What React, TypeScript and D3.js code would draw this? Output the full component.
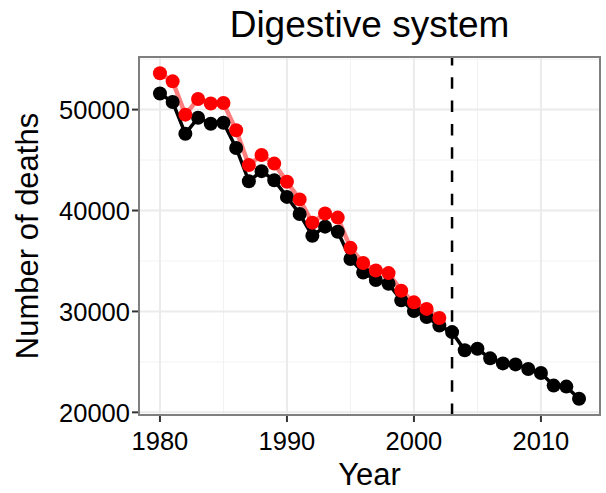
import React from "react";
import * as d3 from "d3";

// Annual deaths from diseases of the digestive system
const years = [
  1980, 1981, 1982, 1983, 1984, 1985, 1986, 1987, 1988, 1989, 1990, 1991,
  1992, 1993, 1994, 1995, 1996, 1997, 1998, 1999, 2000, 2001, 2002, 2003,
  2004, 2005, 2006, 2007, 2008, 2009, 2010, 2011, 2012, 2013,
];
const deathsBlack = [
  51600, 50750, 47600, 49200, 48600, 48700, 46200, 42900, 43900, 43000, 41350,
  39650, 37500, 38400, 37900, 35200, 33850, 33120, 32750, 31100, 30050, 29450,
  28600, 27950, 26150, 26300, 25350, 24850, 24750, 24300, 23900, 22650, 22550,
  21350,
];
const yearsRed = years.slice(0, 23);
const deathsRed = [
  53600, 52800, 49500, 51050, 50600, 50650, 47950, 44500, 45500, 44650, 42850,
  41100, 38800, 39700, 39300, 36300, 34800, 34050, 33800, 32050, 30900, 30250,
  29350,
];
const xTicks = [1980, 1990, 2000, 2010];
const xMinor = [1985, 1995, 2005];
const yTicks = [20000, 30000, 40000, 50000];
const yMinor = [25000, 35000, 45000, 55000];
const markerYear = 2003;
const titleText = "Digestive system";
const xTitle = "Year";
const yTitle = "Number of deaths";

const W = 606;
const H = 493;
const panel = { left: 139, right: 600, top: 57, bottom: 415 };
const FONT = "'Liberation Sans', Arial, Helvetica, sans-serif";

function expand([lo, hi]: [number, number], f = 0.05): [number, number] {
  const d = (hi - lo) * f;
  return [lo - d, hi + d];
}

export default function App() {
  const xExt = d3.extent(years) as [number, number];
  const yExt = d3.extent([...deathsBlack, ...deathsRed]) as [number, number];
  const x = d3.scaleLinear().domain(expand(xExt)).range([panel.left, panel.right]);
  const y = d3.scaleLinear().domain(expand(yExt)).range([panel.bottom, panel.top]);

  const black = years.map((yr, i) => [yr, deathsBlack[i]] as [number, number]);
  const red = yearsRed.map((yr, i) => [yr, deathsRed[i]] as [number, number]);
  const line = d3
    .line<[number, number]>()
    .x((d) => x(d[0]))
    .y((d) => y(d[1]));

  const yMinorIn = yMinor.filter((v) => y(v) >= panel.top && y(v) <= panel.bottom);

  return (
    <svg
      width={W}
      height={H}
      style={{ position: "absolute", left: 0, top: 0, background: "#fff" }}
      fontFamily={FONT}
    >
      <rect x={0} y={0} width={W} height={H} fill="#fff" />
      {/* grid */}
      <g>
        {xMinor.map((v) => (
          <line key={"xm" + v} x1={x(v)} x2={x(v)} y1={panel.top} y2={panel.bottom} stroke="#f2f2f2" strokeWidth={1} />
        ))}
        {yMinorIn.map((v) => (
          <line key={"ym" + v} x1={panel.left} x2={panel.right} y1={y(v)} y2={y(v)} stroke="#f2f2f2" strokeWidth={1} />
        ))}
        {xTicks.map((v) => (
          <line key={"xg" + v} x1={x(v)} x2={x(v)} y1={panel.top} y2={panel.bottom} stroke="#ebebeb" strokeWidth={2} />
        ))}
        {yTicks.map((v) => (
          <line key={"yg" + v} x1={panel.left} x2={panel.right} y1={y(v)} y2={y(v)} stroke="#ebebeb" strokeWidth={2} />
        ))}
      </g>
      {/* series */}
      <path d={line(black) ?? ""} fill="none" stroke="#000" strokeWidth={3.5} />
      <path d={line(red) ?? ""} fill="none" stroke="#ff0000" strokeOpacity={0.5} strokeWidth={4.5} />
      {black.map((d) => (
        <circle key={"b" + d[0]} cx={x(d[0])} cy={y(d[1])} r={7} fill="#000" />
      ))}
      {red.map((d) => (
        <circle key={"r" + d[0]} cx={x(d[0])} cy={y(d[1])} r={7} fill="#ff0000" />
      ))}
      {/* reference year */}
      <line
        x1={x(markerYear)}
        x2={x(markerYear)}
        y1={panel.bottom}
        y2={panel.top}
        stroke="#000"
        strokeWidth={2.5}
        strokeDasharray="11.5 11.8"
      />
      {/* panel border */}
      <rect
        x={panel.left}
        y={panel.top}
        width={panel.right - panel.left}
        height={panel.bottom - panel.top}
        fill="none"
        stroke="#7f7f7f"
        strokeWidth={2}
      />
      {/* x axis */}
      {xTicks.map((v) => (
        <g key={"xt" + v}>
          <line x1={x(v)} x2={x(v)} y1={panel.bottom + 1} y2={panel.bottom + 7} stroke="#333" strokeWidth={2} />
          <text x={x(v)} y={450} textAnchor="middle" fontSize={25.5} fill="#000">
            {v}
          </text>
        </g>
      ))}
      {/* y axis */}
      {yTicks.map((v) => (
        <g key={"yt" + v}>
          <line x1={panel.left - 7} x2={panel.left - 1} y1={y(v)} y2={y(v)} stroke="#333" strokeWidth={2} />
          <text x={130} y={y(v)} dy="0.36em" textAnchor="end" fontSize={25.5} fill="#000">
            {v}
          </text>
        </g>
      ))}
      <text x={(panel.left + panel.right) / 2} y={485} textAnchor="middle" fontSize={31} fill="#000">
        {xTitle}
      </text>
      <text
        transform={`translate(38, ${(panel.top + panel.bottom) / 2}) rotate(-90)`}
        textAnchor="middle"
        fontSize={31}
        fill="#000"
      >
        {yTitle}
      </text>
      <text x={(panel.left + panel.right) / 2} y={37} textAnchor="middle" fontSize={37} fill="#000">
        {titleText}
      </text>
    </svg>
  );
}
